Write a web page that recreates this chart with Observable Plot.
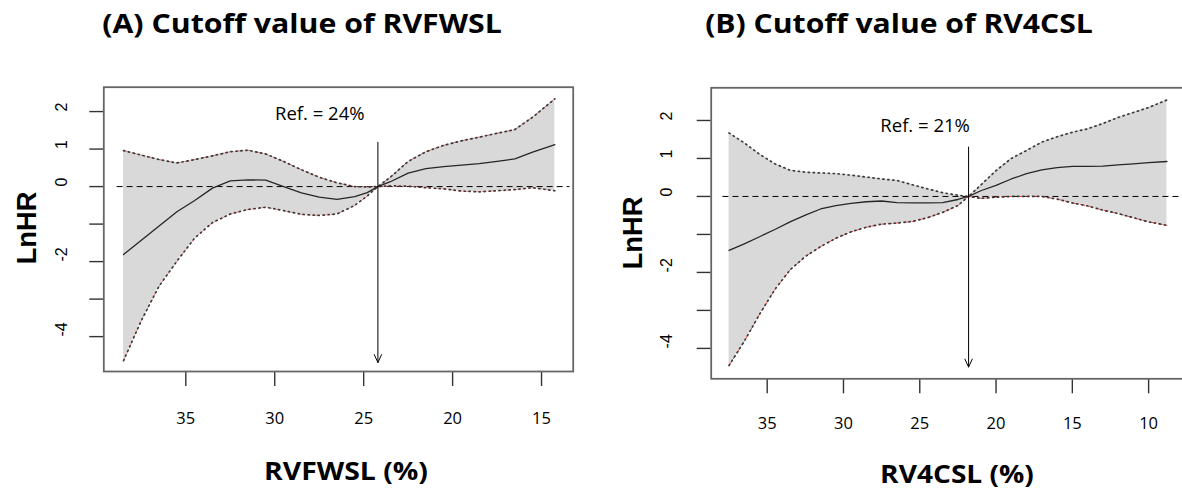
<!DOCTYPE html>
<html><head><meta charset="utf-8">
<script src="https://cdn.jsdelivr.net/npm/d3@7"></script>
<script src="https://cdn.jsdelivr.net/npm/@observablehq/plot@0.6"></script>
<style>
body{margin:0;background:#fff;}
#wrap{position:relative;width:1182px;height:493px;overflow:hidden;background:#fff;}
.lbl{position:absolute;white-space:nowrap;line-height:1;color:#000;}
.pl{position:absolute;top:0;}
</style></head><body><div id="wrap"></div>
<script>
// ---- Panel A: RVFWSL ----
const xA   = [38.5, 37.5, 36.5, 35.5, 34.5, 33.5, 32.5, 31.5, 30.5, 29.5, 28.5, 27.5, 26.5, 25.5, 24.8, 24.2, 23.5, 22.5, 21.5, 20.5, 19.5, 18.5, 17.5, 16.5, 15.5, 14.25];
const midA = [-1.81, -1.43, -1.05, -0.67, -0.37, -0.04, 0.15, 0.18, 0.17, 0.0, -0.17, -0.28, -0.34, -0.27, -0.16, 0, 0.13, 0.36, 0.48, 0.53, 0.57, 0.61, 0.67, 0.74, 0.92, 1.12];
const hiA  = [0.96, 0.84, 0.72, 0.63, 0.72, 0.82, 0.93, 0.97, 0.87, 0.67, 0.45, 0.25, 0.10, 0.0, -0.01, 0, 0.25, 0.67, 0.93, 1.10, 1.22, 1.32, 1.42, 1.52, 1.85, 2.34];
const loA  = [-4.64, -3.57, -2.65, -1.99, -1.37, -0.96, -0.73, -0.61, -0.55, -0.64, -0.74, -0.77, -0.73, -0.50, -0.25, 0, 0.02, 0.01, -0.03, -0.06, -0.12, -0.14, -0.11, -0.08, -0.03, -0.11];
const refA = 24.2;
const xTicksA = [35, 30, 25, 20, 15];

// ---- Panel B: RV4CSL ----
const xB   = [37.5, 36.5, 35.5, 34.5, 33.5, 32.5, 31.5, 30.5, 29.5, 28.5, 27.5, 26.5, 25.5, 24.5, 23.5, 22.5, 21.8, 21, 20, 19, 18, 17, 16, 15, 14, 13, 12, 11, 10, 8.8];
const midB = [-1.42, -1.25, -1.06, -0.87, -0.67, -0.49, -0.33, -0.24, -0.18, -0.14, -0.12, -0.16, -0.17, -0.17, -0.16, -0.08, 0, 0.15, 0.29, 0.46, 0.60, 0.70, 0.76, 0.79, 0.79, 0.80, 0.83, 0.86, 0.89, 0.92];
const hiB  = [1.67, 1.41, 1.11, 0.86, 0.69, 0.64, 0.62, 0.60, 0.56, 0.51, 0.46, 0.42, 0.31, 0.20, 0.10, 0.03, 0, 0.30, 0.68, 1.00, 1.21, 1.43, 1.57, 1.69, 1.78, 1.92, 2.08, 2.21, 2.34, 2.54];
const loB  = [-4.45, -3.81, -3.10, -2.45, -1.93, -1.58, -1.32, -1.10, -0.93, -0.81, -0.73, -0.70, -0.66, -0.56, -0.42, -0.24, 0, -0.05, -0.02, 0, 0, 0, -0.07, -0.17, -0.25, -0.36, -0.45, -0.56, -0.67, -0.76];
const refB = 21.8;
const xTicksB = [35, 30, 25, 20, 15, 10];

const yTicks = [-4, -3, -2, -1, 0, 1, 2];
const yTickLabels = [-4, -2, 0, 1, 2];
const titles = ["(A) Cutoff value of RVFWSL", "(B) Cutoff value of RV4CSL"];
const xTitles = ["RVFWSL (%)", "RV4CSL (%)"];
const yTitle = "LnHR";
const refLabels = ["Ref. = 24%", "Ref. = 21%"];

const wrap = document.getElementById("wrap");

function panel(o) {
  const data = o.x.map((x, i) => ({x, lo: o.lo[i], mid: o.mid[i], hi: o.hi[i]}));
  const tickFont = "'Open Sans', sans-serif";
  const marks = [
    Plot.areaY(data, {x: "x", y1: "lo", y2: "hi", fill: "#d9d9d9"}),
    Plot.ruleY([0], {x1: () => o.zero[0], x2: () => o.zero[1], stroke: "#000", strokeWidth: 1, strokeDasharray: "6,4"}),
  ];
  if (o.redHi) marks.push(Plot.line(data, {x: "x", y: "hi", stroke: "#e8342f", strokeWidth: 0.9, strokeDasharray: "4,5", strokeOpacity: 0.7}));
  marks.push(Plot.line(data, {x: "x", y: "lo", stroke: "#e8342f", strokeWidth: 1, strokeDasharray: "4,4", strokeOpacity: o.redLoOpacity}));
  marks.push(
    Plot.line(data, {x: "x", y: "hi", stroke: "#3a3a3a", strokeWidth: 1.7, strokeDasharray: "1.2,3.8", strokeLinecap: "round"}),
    Plot.line(data, {x: "x", y: "lo", stroke: "#3a3a3a", strokeWidth: 1.7, strokeDasharray: "1.2,3.8", strokeLinecap: "round"}),
    Plot.line(data, {x: "x", y: "mid", stroke: "#262626", strokeWidth: 1.3}),
    Plot.arrow([o.ref], {x1: d => d, x2: d => d, y1: () => o.arrow[0], y2: () => o.arrow[1], stroke: "#000", strokeWidth: 1, headAngle: 50, headLength: 13}),
    Plot.text([o.refLabel], {x: () => o.refLabelPos[0], y: () => o.refLabelPos[1], text: d => d, fontSize: 18.5, fontFamily: tickFont, fill: "#000"}),
    Plot.axisX({ticks: o.xTicks, tickSize: 15, tickFormat: () => "", label: null, stroke: "#333", strokeWidth: 1.4}),
    Plot.axisY({ticks: yTicks, anchor: "left", tickSize: 14, tickFormat: () => "", label: null, stroke: "#333", strokeWidth: 1.4}),
    Plot.text(o.xTicks, {x: d => d, text: d => String(d), frameAnchor: "bottom", dy: o.xLabDy, fontSize: 16.5, fontFamily: tickFont, fill: "#000"}),
    Plot.text(yTickLabels, {y: d => d, text: d => String(d), frameAnchor: "left", dx: o.yLabDx, rotate: -90, fontSize: 16, fontFamily: "'Liberation Sans', Arial, sans-serif", fill: "#000"}),
    Plot.frame({stroke: "#666", strokeWidth: 1.8})
  );
  const svg = Plot.plot({
    width: o.width, height: 493,
    marginLeft: o.m[0], marginRight: o.m[1], marginTop: o.m[2], marginBottom: o.m[3],
    x: {domain: o.xDomain},
    y: {domain: o.yDomain},
    style: {background: "transparent", overflow: "visible"},
    marks
  });
  svg.classList.add("pl");
  svg.style.left = o.left + "px";
  wrap.appendChild(svg);
}

panel({x: xA, lo: loA, mid: midA, hi: hiA, ref: refA, xTicks: xTicksA,
  xDomain: [39.61, 13.22], yDomain: [-4.93, 2.65], width: 591, left: 0,
  m: [103.3, 18.3, 86.7, 122], zero: [38.86, 13.4], arrow: [1.18, -4.69],
  refLabel: refLabels[0], refLabelPos: [27.47, 1.94], xLabDy: 52, yLabDx: -42,
  redHi: true, redLoOpacity: 0.6});

panel({x: xB, lo: loB, mid: midB, hi: hiB, ref: refB, xTicks: xTicksB,
  xDomain: [38.67, 7.53], yDomain: [-4.80, 2.86], width: 600, left: 600,
  m: [110.7, 14.2, 87.3, 114.7], zero: [37.9, 7.53], arrow: [1.30, -4.49],
  refLabel: refLabels[1], refLabelPos: [24.65, 1.84], xLabDy: 50, yLabDx: -44,
  redHi: false, redLoOpacity: 0.9});

function label(text, cx, cy, target, font, rotate) {
  const d = document.createElement("div");
  d.className = "lbl";
  d.textContent = text;
  d.style.font = font;
  d.style.left = cx + "px";
  d.style.top = cy + "px";
  wrap.appendChild(d);
  const k = target ? target / d.offsetWidth : 1;
  d.style.transform = `translate(-50%,-50%) ${rotate ? "rotate(-90deg)" : ""} scaleX(${k})`;
}
label(titles[0], 301.5, 22, 399, "700 27px 'Open Sans', sans-serif");
label(titles[1], 898.6, 22, 388, "700 27px 'Open Sans', sans-serif");
label(xTitles[0], 346, 470, 164.5, "700 25px 'Open Sans', sans-serif");
label(xTitles[1], 957, 473, 154, "700 25px 'Open Sans', sans-serif");
label(yTitle, 27, 228.3, 73, "700 28px 'Liberation Sans', Arial, sans-serif", true);
label(yTitle, 633, 232.5, 73, "700 28px 'Liberation Sans', Arial, sans-serif", true);
</script>
</body></html>
